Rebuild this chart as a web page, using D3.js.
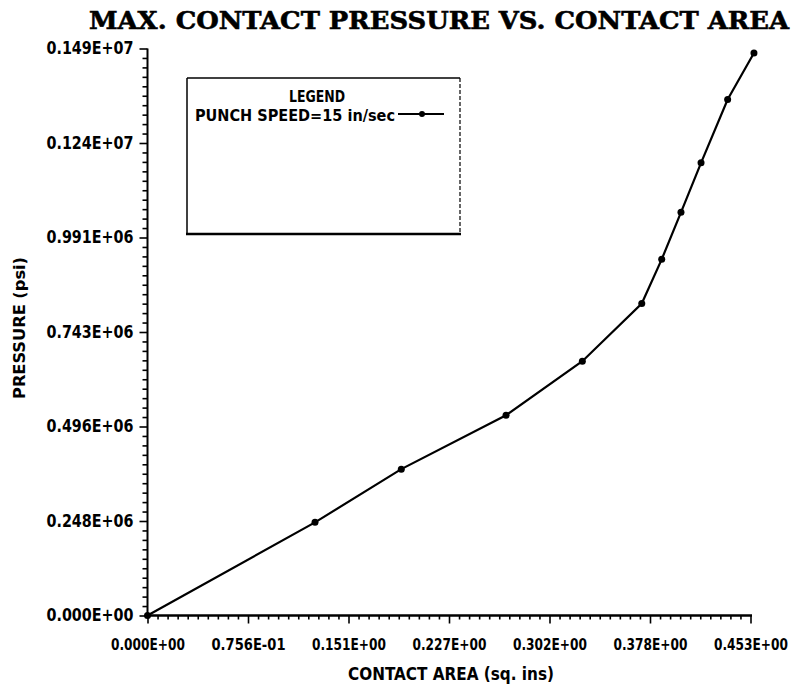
<!DOCTYPE html>
<html>
<head>
<meta charset="utf-8">
<script src="https://cdn.jsdelivr.net/npm/d3@7"></script>
<style>
  html, body { margin: 0; padding: 0; background: #fff; }
  svg { display: block; }
  .tick text { font-family: "DejaVu Sans Condensed", "DejaVu Sans", sans-serif; font-weight: bold; }
</style>
</head>
<body>
<svg id="chart" width="799" height="686"></svg>
<script>
// ---- data ----
const contactArea = [0, 0.1260, 0.1909, 0.2697, 0.3271, 0.3718, 0.3868, 0.4013, 0.4164, 0.4364, 0.4562];
const pressure    = [0, 244400, 384100, 525700, 667300, 818600, 934700, 1058000, 1188000, 1354000, 1476000];

const xTickValues = [0, 0.0756, 0.1512, 0.2268, 0.3024, 0.378, 0.4536];
const xTickLabels = ["0.000E+00", "0.756E-01", "0.151E+00", "0.227E+00", "0.302E+00", "0.378E+00", "0.453E+00"];
const yTickValues = [0, 248000, 496000, 744000, 992000, 1240000, 1488000];
const yTickLabels = ["0.000E+00", "0.248E+06", "0.496E+06", "0.743E+06", "0.991E+06", "0.124E+07", "0.149E+07"];

const titleText = "MAX. CONTACT PRESSURE VS. CONTACT AREA";
const xTitle = "CONTACT AREA (sq. ins)";
const yTitle = "PRESSURE (psi)";
const legendTitle = "LEGEND";
const seriesName = "PUNCH SPEED=15 in/sec";

// ---- layout ----
const svg = d3.select("#chart");
const x = d3.scaleLinear().domain([0, 0.4536]).range([147.5, 750.5]);
const y = d3.scaleLinear().domain([0, 1488000]).range([615.5, 48.5]);
const sansC = "DejaVu Sans Condensed, DejaVu Sans, sans-serif";

// minor tick values (10 per major interval)
function minors(vals) {
  const out = [];
  for (let i = 0; i < vals.length - 1; i++) {
    const a = vals[i], b = vals[i + 1];
    for (let k = 1; k < 10; k++) out.push(a + (b - a) * k / 10);
  }
  return out;
}

// title
svg.append("text")
  .attr("x", 439).attr("y", 29)
  .attr("text-anchor", "middle")
  .attr("font-family", "DejaVu Serif, serif")
  .attr("font-weight", "bold")
  .attr("font-size", 25)
  .attr("stroke", "#000").attr("stroke-width", 0.6)
  .attr("textLength", 700).attr("lengthAdjust", "spacingAndGlyphs")
  .text(titleText);

// x axis
const gx = svg.append("g").attr("transform", "translate(0,615.5)");
gx.call(d3.axisBottom(x).tickValues(minors(xTickValues)).tickSize(4).tickFormat(""))
  .call(g => g.select(".domain").remove());
gx.selectAll("line").attr("stroke", "#000").attr("stroke-width", 1.6);
const gxM = svg.append("g").attr("transform", "translate(0,615.5)");
gxM.call(d3.axisBottom(x).tickValues(xTickValues).tickSize(8).tickPadding(12)
    .tickFormat((d, i) => xTickLabels[i]));
gxM.select(".domain").attr("d", "M147.5,0H752").attr("stroke", "#000").attr("stroke-width", 2.5);
gxM.selectAll("line").attr("stroke", "#000").attr("stroke-width", 1.6);
gxM.selectAll("text").attr("font-size", 14).attr("fill", "#000")
  .attr("textLength", 74).attr("lengthAdjust", "spacingAndGlyphs")
  .attr("transform", "scale(1,1.15)");

// y axis
const gy = svg.append("g").attr("transform", "translate(147.5,0)");
gy.call(d3.axisLeft(y).tickValues(minors(yTickValues)).tickSize(5).tickFormat(""))
  .call(g => g.select(".domain").remove());
gy.selectAll("line").attr("stroke", "#000").attr("stroke-width", 1.6);
const gyM = svg.append("g").attr("transform", "translate(147.5,0)");
gyM.call(d3.axisLeft(y).tickValues(yTickValues).tickSize(8).tickPadding(6)
    .tickFormat((d, i) => yTickLabels[i]));
gyM.select(".domain").attr("d", "M0,615.5V48.5").attr("stroke", "#000").attr("stroke-width", 2);
gyM.selectAll("line").attr("stroke", "#000").attr("stroke-width", 1.6);
gyM.selectAll("text").attr("font-size", 17).attr("fill", "#000")
  .attr("textLength", 87).attr("lengthAdjust", "spacingAndGlyphs");

// axis titles
svg.append("text")
  .attr("x", 451).attr("y", 680)
  .attr("text-anchor", "middle")
  .attr("font-family", sansC)
  .attr("font-weight", "bold").attr("font-size", 17)
  .attr("textLength", 206).attr("lengthAdjust", "spacingAndGlyphs")
  .text(xTitle);
svg.append("text")
  .attr("transform", "translate(25,328) rotate(-90)")
  .attr("text-anchor", "middle")
  .attr("font-family", sansC)
  .attr("font-weight", "bold").attr("font-size", 16)
  .attr("textLength", 142).attr("lengthAdjust", "spacingAndGlyphs")
  .text(yTitle);

// data line
const pts = contactArea.map((d, i) => [d, pressure[i]]);
svg.append("path")
  .datum(pts)
  .attr("fill", "none").attr("stroke", "#000").attr("stroke-width", 2.2)
  .attr("d", d3.line().x(d => x(d[0])).y(d => y(d[1])));
svg.selectAll("circle.pt")
  .data(pts)
  .join("circle").attr("class", "pt")
  .attr("cx", d => x(d[0])).attr("cy", d => y(d[1]))
  .attr("r", 3.5).attr("fill", "#000");

// legend
const lg = svg.append("g");
lg.append("line").attr("x1", 187).attr("y1", 78).attr("x2", 460).attr("y2", 78).attr("stroke", "#000").attr("stroke-width", 1.5);
lg.append("line").attr("x1", 187).attr("y1", 78).attr("x2", 187).attr("y2", 234).attr("stroke", "#000").attr("stroke-width", 1.5);
lg.append("line").attr("x1", 460).attr("y1", 78).attr("x2", 460).attr("y2", 234).attr("stroke", "#000").attr("stroke-width", 1.2).attr("stroke-dasharray", "4,2");
lg.append("line").attr("x1", 186).attr("y1", 234).attr("x2", 461).attr("y2", 234).attr("stroke", "#000").attr("stroke-width", 2.5);
lg.append("text").attr("x", 317).attr("y", 102).attr("text-anchor", "middle")
  .attr("font-family", sansC)
  .attr("font-weight", "bold").attr("font-size", 16)
  .attr("textLength", 56).attr("lengthAdjust", "spacingAndGlyphs")
  .text(legendTitle);
lg.append("text").attr("x", 195).attr("y", 121)
  .attr("font-family", sansC)
  .attr("font-weight", "bold").attr("font-size", 16)
  .attr("textLength", 200).attr("lengthAdjust", "spacingAndGlyphs")
  .text(seriesName);
lg.append("line").attr("x1", 398).attr("y1", 114).attr("x2", 444).attr("y2", 114).attr("stroke", "#000").attr("stroke-width", 2);
lg.append("circle").attr("cx", 422).attr("cy", 114).attr("r", 3).attr("fill", "#000");
</script>
</body>
</html>
